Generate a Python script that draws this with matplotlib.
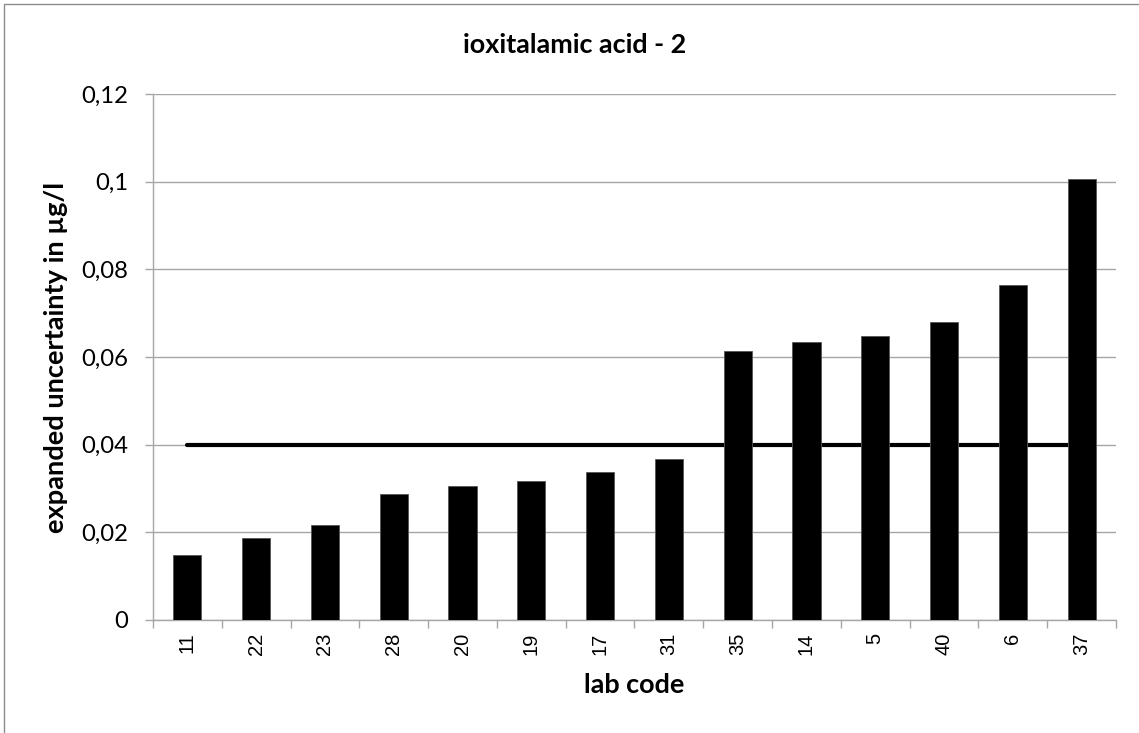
import matplotlib
matplotlib.use('Agg')
import matplotlib.pyplot as plt
import matplotlib.patches as mpatches
import numpy as np

# data
labs = ['11', '22', '23', '28', '20', '19', '17', '31', '35', '14', '5', '40', '6', '37']
uncertainty = [0.0148, 0.0187, 0.0217, 0.0288, 0.0305, 0.0317, 0.0337, 0.0368,
               0.0613, 0.0635, 0.0648, 0.0679, 0.0765, 0.1007]
target = 0.04
yticks = [0, 0.02, 0.04, 0.06, 0.08, 0.1, 0.12]
ytick_labels = ['0', '0,02', '0,04', '0,06', '0,08', '0,1', '0,12']

W, H = 1139, 733
fig = plt.figure(figsize=(W / 100, H / 100), dpi=100)
renderer = fig.canvas.get_renderer()


def fit_size(text, width_px, **kw):
    # font size that makes the text about width_px wide (Calibri substitute)
    t = fig.text(0, 0, text, fontsize=10, **kw)
    w = t.get_window_extent(renderer).width
    t.remove()
    return 10 * width_px / w


ax = fig.add_axes([153 / W, 1 - 620 / H, (1116 - 153) / W, (620 - 94) / H])

grid_col = '#a6a6a6'
x = np.arange(len(labs))

ax.plot([x[0], x[-1]], [target, target], color='black', linewidth=3,
        solid_capstyle='round', zorder=2)
ax.bar(x, uncertainty, width=0.41, color='black', edgecolor='#555555',
       linewidth=0.6, zorder=3)

ax.set_xlim(-0.5, len(labs) - 0.5)
ax.set_ylim(0, 0.12)
ax.set_yticks(yticks)
ax.set_yticklabels(ytick_labels, family='Lato',
                   fontsize=fit_size('0,12', 47, family='Lato'))
ax.yaxis.grid(True, color=grid_col, linewidth=1)
ax.set_axisbelow(True)

ax.set_xticks(x)
ax.set_xticklabels(labs, rotation=90, fontsize=14.5, family='Liberation Sans')
ax.tick_params(axis='x', which='major', length=0, pad=9)
ax.set_xticks(np.arange(-0.5, len(labs)), minor=True)
ax.tick_params(axis='x', which='minor', length=6, color=grid_col, width=1)
ax.tick_params(axis='y', length=6, color=grid_col, width=1, pad=12)

for s in ['top', 'right']:
    ax.spines[s].set_visible(False)
for s in ['left', 'bottom']:
    ax.spines[s].set_color(grid_col)
    ax.spines[s].set_linewidth(1)

bold = dict(family='Lato', fontweight='bold')
title = 'ioxitalamic acid - 2'
fig.text(575 / W, 1 - 53 / H, title, ha='center', va='baseline',
         fontsize=fit_size(title, 224, **bold), **bold)
fig.text(634 / W, 1 - 693 / H, 'lab code', ha='center', va='baseline',
         fontsize=fit_size('lab code', 101, **bold), **bold)
ylab = 'expanded uncertainty in µg/l'
fig.text(56 / W, 1 - 357 / H, ylab, ha='center', va='center', rotation=90,
         fontsize=fit_size(ylab, 353, **bold), **bold)

# outer chart frame
fig.add_artist(mpatches.Rectangle((4 / W, -0.05), 1.2, 1.05 - 4 / H,
                                  transform=fig.transFigure, fill=False,
                                  edgecolor='#8c8c8c', linewidth=1))

fig.savefig('out.png', dpi=100, facecolor='white')
